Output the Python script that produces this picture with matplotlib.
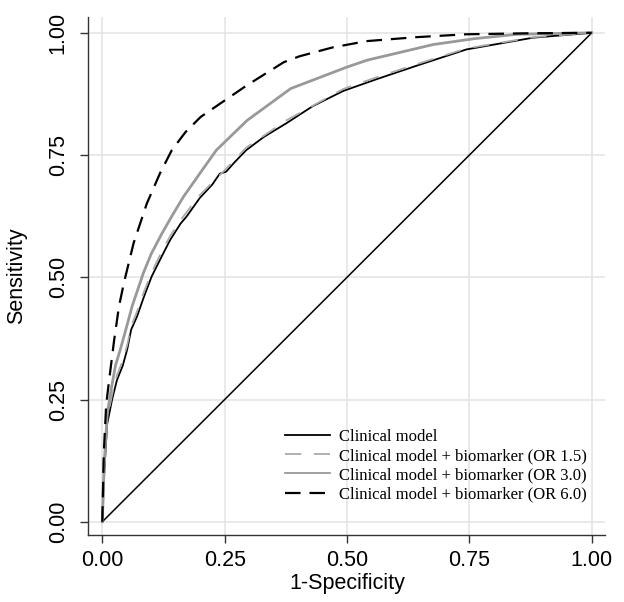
import matplotlib
matplotlib.use("Agg")
import matplotlib.pyplot as plt
from matplotlib.lines import Line2D

# ROC curves (1-specificity, sensitivity)
fpr_clin = [0, 0.004, 0.010, 0.020, 0.030, 0.042, 0.051, 0.059, 0.071, 0.085, 0.101, 0.120,
            0.139, 0.160, 0.172, 0.199, 0.225, 0.240, 0.253, 0.270, 0.294, 0.330, 0.376, 0.430,
            0.492, 0.560, 0.649, 0.744, 0.880, 1.0]
tpr_clin = [0, 0.10, 0.20, 0.25, 0.29, 0.32, 0.353, 0.393, 0.42, 0.46, 0.502, 0.54,
            0.577, 0.61, 0.624, 0.662, 0.69, 0.712, 0.716, 0.735, 0.76, 0.787, 0.815, 0.85,
            0.881, 0.905, 0.935, 0.966, 0.99, 1.0]

fpr_15 = [0, 0.004, 0.010, 0.020, 0.030, 0.042, 0.051, 0.059, 0.071, 0.085, 0.101, 0.120,
          0.139, 0.160, 0.199, 0.253, 0.294, 0.376, 0.492, 0.560, 0.649, 0.744, 0.880, 1.0]
tpr_15 = [0, 0.11, 0.21, 0.26, 0.30, 0.33, 0.362, 0.40, 0.43, 0.47, 0.51, 0.55,
          0.585, 0.617, 0.668, 0.722, 0.765, 0.821, 0.885, 0.909, 0.938, 0.968, 0.991, 1.0]

fpr_30 = [0, 0.004, 0.010, 0.018, 0.027, 0.037, 0.050, 0.061, 0.084, 0.100, 0.122, 0.145,
          0.166, 0.199, 0.233, 0.296, 0.385, 0.500, 0.541, 0.600, 0.676, 0.760, 0.847, 1.0]
tpr_30 = [0, 0.12, 0.22, 0.27, 0.32, 0.353, 0.40, 0.441, 0.509, 0.548, 0.590, 0.630,
          0.665, 0.712, 0.76, 0.821, 0.886, 0.930, 0.944, 0.958, 0.976, 0.988, 0.997, 1.0]

fpr_60 = [0, 0.003, 0.008, 0.014, 0.024, 0.034, 0.044, 0.064, 0.091, 0.118, 0.142, 0.170,
          0.201, 0.255, 0.296, 0.371, 0.403, 0.470, 0.540, 0.640, 0.744, 0.870, 1.0]
tpr_60 = [0, 0.14, 0.24, 0.29, 0.37, 0.44, 0.488, 0.57, 0.651, 0.713, 0.76, 0.797,
          0.828, 0.865, 0.893, 0.94, 0.952, 0.970, 0.983, 0.991, 0.997, 0.999, 1.0]

ticks = [0, 0.25, 0.5, 0.75, 1.0]
tick_labels = ["0.00", "0.25", "0.50", "0.75", "1.00"]
legend_labels = ["Clinical model",
                 "Clinical model + biomarker (OR 1.5)",
                 "Clinical model + biomarker (OR 3.0)",
                 "Clinical model + biomarker (OR 6.0)"]

plt.rcParams['font.family'] = ['Liberation Sans', 'DejaVu Sans']

fig = plt.figure(figsize=(6.24, 6.02), dpi=100)
ax = fig.add_axes([0.1415, 0.1113, 0.828, 0.861])

ax.plot([0, 1], [0, 1], color='black', lw=1.1)
ax.plot(fpr_clin, tpr_clin, color='black', lw=1.3)
ax.plot(fpr_15, tpr_15, color='#aaaaaa', lw=1.3, dashes=(9, 7))
ax.plot(fpr_30, tpr_30, color='#999999', lw=2.0)
ax.plot(fpr_60, tpr_60, color='black', lw=1.6, dashes=(7, 4))

ax.set_xlim(-0.0286, 1.027)
ax.set_ylim(-0.027, 1.033)
ax.set_xticks(ticks)
ax.set_xticklabels(tick_labels)
ax.set_yticks(ticks)
ax.set_yticklabels(tick_labels, rotation=90, va='center')
ax.grid(True, color='#e3e3e3', lw=1.1)
ax.set_axisbelow(True)

for side in ['top', 'right']:
    ax.spines[side].set_visible(False)
for side in ['left', 'bottom']:
    ax.spines[side].set_color('#333333')
    ax.spines[side].set_linewidth(1.0)
ax.tick_params(colors='#333333', labelcolor='black', labelsize=15.5, length=6, width=1.0)
ax.tick_params(axis='x', pad=5)
ax.tick_params(axis='y', pad=8)

ax.set_xlabel("1-Specificity", fontsize=15.5)
ax.set_ylabel("Sensitivity", fontsize=15.5)
ax.xaxis.set_label_coords(0.5 + (347 - 346.6) / 516.7, -0.0727)
ax.yaxis.set_label_coords(-0.1186, 0.5)

handles = [Line2D([], [], color='black', lw=1.3),
           Line2D([], [], color='#aaaaaa', lw=1.3, dashes=(9, 7)),
           Line2D([], [], color='#999999', lw=1.3),
           Line2D([], [], color='black', lw=1.6, dashes=(7, 4))]
fig.legend(handles, legend_labels, loc='upper left', bbox_to_anchor=(0.457, 0.288),
           frameon=False, prop={'family': 'Liberation Serif', 'size': 12},
           handlelength=2.7, handletextpad=0.5, labelspacing=0.2,
           borderpad=0, borderaxespad=0)

fig.savefig("out.png", dpi=100)
